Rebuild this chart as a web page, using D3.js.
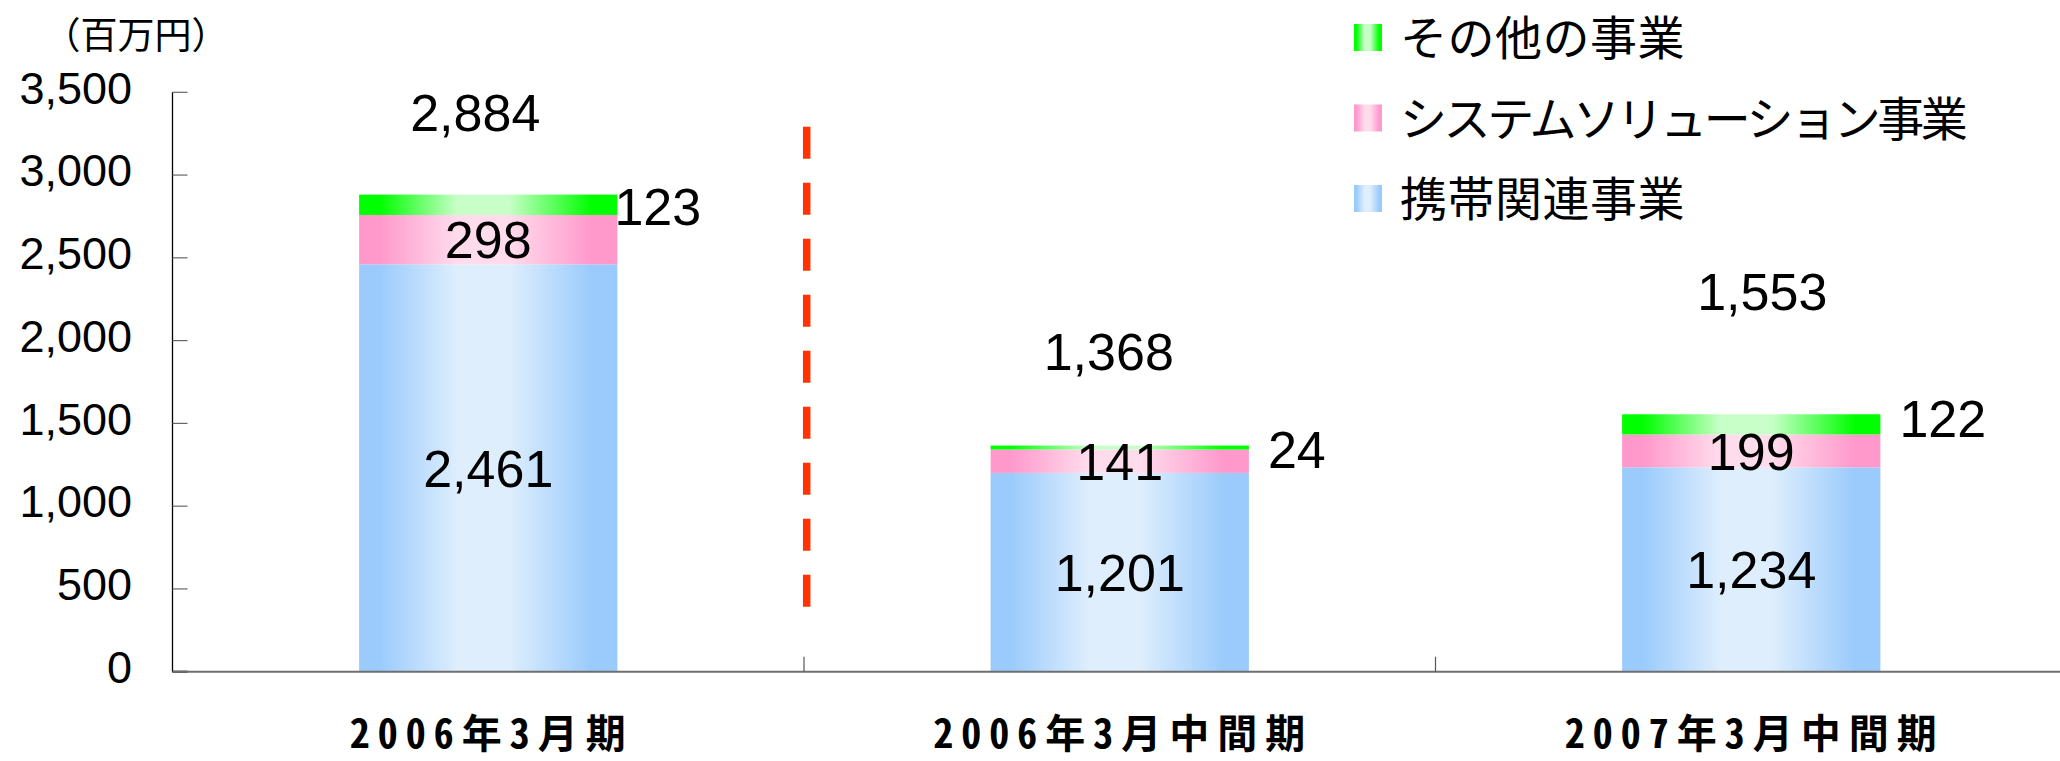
<!DOCTYPE html>
<html>
<head>
<meta charset="utf-8">
<script src="https://cdn.jsdelivr.net/npm/d3@7"></script>
<style>
  html, body { margin: 0; padding: 0; background: #ffffff; }
  svg { display: block; }
</style>
</head>
<body>
<script>
// ---- data ----
const categories = ["2006年3月期", "2006年3月中間期", "2007年3月中間期"];
const seriesNames = ["携帯関連事業", "システムソリューション事業", "その他の事業"];
const mobileValues = [2461, 1201, 1234];
const systemValues = [298, 141, 199];
const otherValues = [123, 24, 122];
const totalValues = [2884, 1368, 1553];
const yTickValues = [0, 500, 1000, 1500, 2000, 2500, 3000, 3500];
const unitLabel = "（百万円）";

// ---- layout / style ----
const W = 2060, H = 761;
const axisX = 172.5, plotTop = 92.3, plotBottom = 671.7;
const step = 631.5;
const numFont = "'Liberation Sans', Arial, sans-serif";
const cjkFont = "'Noto Sans CJK JP', 'Noto Sans CJK SC', sans-serif";
const gradColors = [
  { id: "gMobile", edge: "#9BCBFC", center: "#DEEEFD" },
  { id: "gSystem", edge: "#FF99CC", center: "#FFDCEC" },
  { id: "gOther",  edge: "#00FF00", center: "#C8FFC8" }
];
// label placement tweaks (pixels)
const totalLabelDx = [-13, -11, 11];
const totalLabelDy = [-63, -75, -105];
const otherLabelDx = [-3, 19, 19];
const otherLabelDy = [1, 1.5, -6.5];
const legendSpacing = [0.5, -3.4, 0.5]; // per series (mobile, system, other)

const svg = d3.select("body").append("svg")
  .attr("width", W).attr("height", H)
  .attr("viewBox", `0 0 ${W} ${H}`);

svg.append("rect").attr("width", W).attr("height", H).attr("fill", "#ffffff");

const defs = svg.append("defs");
gradColors.forEach(g => {
  const lg = defs.append("linearGradient").attr("id", g.id)
    .attr("x1", "0").attr("x2", "1").attr("y1", "0").attr("y2", "0");
  [[0, g.edge], [0.08, g.edge], [0.38, g.center], [0.58, g.center], [0.9, g.edge], [1, g.edge]]
    .forEach(([o, c]) => lg.append("stop").attr("offset", o).attr("stop-color", c));
});

// scales
const x = d3.scaleBand()
  .domain(categories)
  .range([axisX, axisX + step * categories.length])
  .paddingInner(0.591)
  .paddingOuter(0.2955);

const y = d3.scaleLinear().domain([0, 3500]).range([plotBottom, plotTop]);

// stacked data
const rows = categories.map((c, i) => ({
  cat: c, mobile: mobileValues[i], system: systemValues[i], other: otherValues[i]
}));
const keys = ["mobile", "system", "other"];
const stack = d3.stack().keys(keys)(rows);

// bars
stack.forEach((layer, li) => {
  svg.append("g").selectAll("rect").data(layer).join("rect")
    .attr("x", d => x(d.data.cat))
    .attr("width", x.bandwidth())
    .attr("y", d => y(d[1]))
    .attr("height", d => y(d[0]) - y(d[1]))
    .attr("fill", `url(#${gradColors[li].id})`);
});

// y axis
const yAxis = svg.append("g");
yAxis.append("line")
  .attr("x1", axisX).attr("x2", axisX)
  .attr("y1", y(3500)).attr("y2", y(0))
  .attr("stroke", "#000").attr("stroke-width", 1.3);
yAxis.selectAll("line.tick").data(yTickValues).join("line")
  .attr("class", "tick")
  .attr("x1", axisX).attr("x2", axisX + 15)
  .attr("y1", d => y(d)).attr("y2", d => y(d))
  .attr("stroke", d => d === 0 ? "#000" : "#666").attr("stroke-width", d => d === 0 ? 2 : 1.2);
yAxis.selectAll("text").data(yTickValues).join("text")
  .attr("x", 132).attr("y", d => y(d) - 5)
  .attr("dy", "0.36em")
  .attr("text-anchor", "end")
  .attr("font-family", numFont).attr("font-size", 45)
  .attr("fill", "#000")
  .text(d => d3.format(",")(d));

// x axis
svg.append("line")
  .attr("x1", axisX).attr("x2", W)
  .attr("y1", y(0)).attr("y2", y(0))
  .attr("stroke", "#6e6e6e").attr("stroke-width", 2);
const boundaries = d3.range(1, categories.length).map(i => axisX + step * i);
svg.selectAll("line.ctick").data(boundaries).join("line")
  .attr("class", "ctick")
  .attr("x1", d => d).attr("x2", d => d)
  .attr("y1", y(0)).attr("y2", y(0) - 15)
  .attr("stroke", "#555").attr("stroke-width", 1.2);

// category labels
svg.selectAll("text.cat").data(categories).join("text")
  .attr("class", "cat")
  .attr("x", d => x(d) + x.bandwidth() / 2 + 3.5)
  .attr("y", 748)
  .attr("text-anchor", "middle")
  .attr("font-family", cjkFont).attr("font-weight", "bold")
  .attr("font-size", 40)
  .style("letter-spacing", "8px")
  .style("font-feature-settings", "'hwid' 1")
  .attr("fill", "#000")
  .text(d => d);

// dashed separator
svg.append("line")
  .attr("x1", boundaries[0] + 2.7).attr("x2", boundaries[0] + 2.7)
  .attr("y1", y(3292)).attr("y2", y(370))
  .attr("stroke", "#FF3300").attr("stroke-width", 7.5)
  .attr("stroke-dasharray", "32 24");

// segment labels (mobile, system) centered
[0, 1].forEach(li => {
  svg.append("g").selectAll("text").data(stack[li]).join("text")
    .attr("x", d => x(d.data.cat) + x.bandwidth() / 2)
    .attr("y", d => (y(d[0]) + y(d[1])) / 2)
    .attr("dy", "0.36em")
    .attr("text-anchor", "middle")
    .attr("font-family", numFont).attr("font-size", 52)
    .attr("fill", "#000")
    .text((d, i) => d3.format(",")(li === 0 ? mobileValues[i] : systemValues[i]));
});

// other labels at right of bar
svg.append("g").selectAll("text").data(stack[2]).join("text")
  .attr("x", (d, i) => x(d.data.cat) + x.bandwidth() + otherLabelDx[i])
  .attr("y", (d, i) => (y(d[0]) + y(d[1])) / 2 + otherLabelDy[i])
  .attr("dy", "0.36em")
  .attr("text-anchor", "start")
  .attr("font-family", numFont).attr("font-size", 52)
  .attr("fill", "#000")
  .text((d, i) => d3.format(",")(otherValues[i]));

// totals
svg.append("g").selectAll("text").data(totalValues).join("text")
  .attr("x", (d, i) => x(categories[i]) + x.bandwidth() / 2 + totalLabelDx[i])
  .attr("y", (d, i) => y(d) + totalLabelDy[i])
  .attr("text-anchor", "middle")
  .attr("font-family", numFont).attr("font-size", 52)
  .attr("fill", "#000")
  .text(d => d3.format(",")(d));

// unit label
svg.append("text")
  .attr("x", 136).attr("y", 33)
  .attr("dominant-baseline", "central")
  .attr("text-anchor", "middle")
  .attr("font-family", cjkFont).attr("font-size", 37)
  .attr("fill", "#000")
  .text(unitLabel);

// legend (top to bottom: other, system, mobile)
const legendOrder = [2, 1, 0];
const legend = svg.append("g");
legendOrder.forEach((si, row) => {
  const cy = 37.5 + row * 80.5;
  legend.append("rect")
    .attr("x", 1354).attr("y", cy - 13.5)
    .attr("width", 28).attr("height", 27)
    .attr("fill", `url(#${gradColors[si].id})`);
  legend.append("text")
    .attr("x", 1400).attr("y", cy - 3)
    .attr("dominant-baseline", "central")
    .attr("font-family", cjkFont).attr("font-size", 47)
    .style("letter-spacing", legendSpacing[si] + "px")
    .attr("fill", "#000")
    .text(seriesNames[si]);
});
</script>
</body>
</html>
